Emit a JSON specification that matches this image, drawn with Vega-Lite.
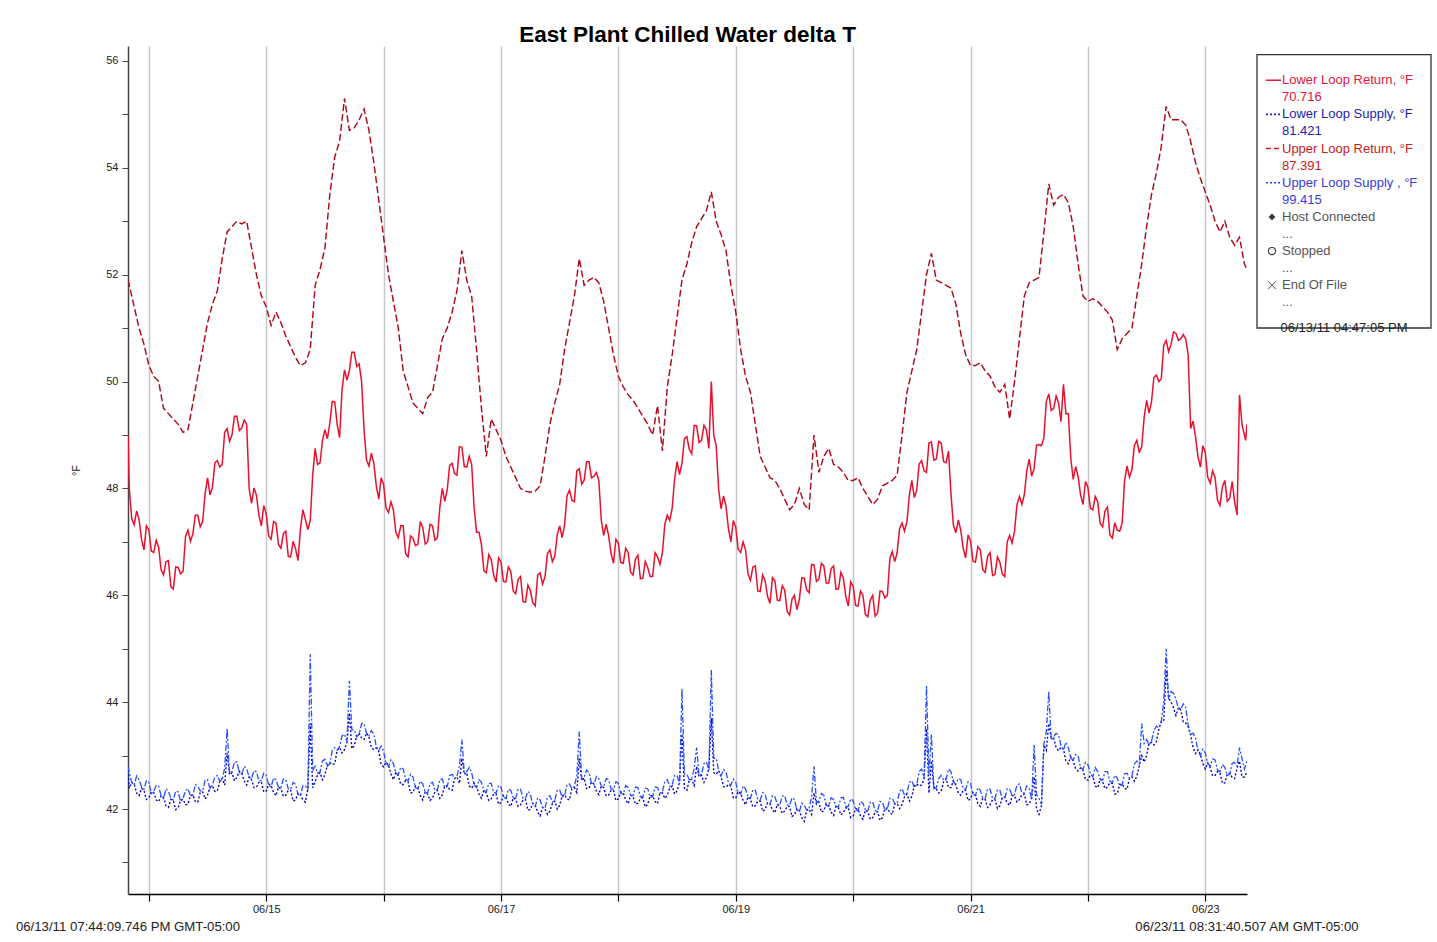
{
"$schema":"https://vega.github.io/schema/vega-lite/v6.json",
"padding":{"left":15,"top":23,"right":4,"bottom":4},
"config":{"view":{"stroke":null},"font":"Liberation Sans","concat":{"spacing":10}},
"bounds":"flush",
"resolve":{"scale":{"color":"independent","strokeDash":"independent","x":"independent","y":"independent"}},
"datasets":{
"ser":[
{"t":"2011-06-13T19:44:09Z","a":49.0,"b":51.9,"c":42.65,"d":42.8},
{"t":"2011-06-13T20:00Z","a":48.0,"b":51.8,"c":42.39,"d":42.68},
{"t":"2011-06-13T21:00Z","a":47.32,"b":51.4,"c":42.47,"d":42.45},
{"t":"2011-06-13T22:00Z","a":47.42,"b":51.0,"c":42.25,"d":42.55},
{"t":"2011-06-13T23:00Z","a":46.85,"b":50.7,"c":42.35,"d":42.37},
{"t":"2011-06-14T00:00Z","a":47.22,"b":50.3,"c":42.21,"d":42.5},
{"t":"2011-06-14T01:00Z","a":46.8,"b":50.1,"c":42.31,"d":42.33},
{"t":"2011-06-14T02:00Z","a":46.9,"b":50.0,"c":42.14,"d":42.43},
{"t":"2011-06-14T03:00Z","a":46.38,"b":49.5,"c":42.22,"d":42.2},
{"t":"2011-06-14T04:00Z","a":46.65,"b":49.4,"c":42.03,"d":42.33},
{"t":"2011-06-14T05:00Z","a":46.12,"b":49.3,"c":42.15,"d":42.17},
{"t":"2011-06-14T06:00Z","a":46.52,"b":49.2,"c":42.03,"d":42.32},
{"t":"2011-06-14T07:00Z","a":46.45,"b":49.05,"c":42.18,"d":42.2},
{"t":"2011-06-14T08:00Z","a":47.22,"b":49.1,"c":42.09,"d":42.38},
{"t":"2011-06-14T09:00Z","a":47.15,"b":49.6,"c":42.27,"d":42.25},
{"t":"2011-06-14T10:00Z","a":47.5,"b":50.1,"c":42.13,"d":42.43},
{"t":"2011-06-14T11:00Z","a":47.38,"b":50.6,"c":42.32,"d":42.34},
{"t":"2011-06-14T12:00Z","a":48.2,"b":51.1,"c":42.26,"d":42.55},
{"t":"2011-06-14T13:00Z","a":48.02,"b":51.45,"c":42.43,"d":42.45},
{"t":"2011-06-14T14:00Z","a":48.52,"b":51.7,"c":42.34,"d":42.63},
{"t":"2011-06-14T15:00Z","a":48.45,"b":52.3,"c":42.57,"d":42.55},
{"t":"2011-06-14T16:00Z","a":49.12,"b":52.8,"c":43.05,"d":43.5},
{"t":"2011-06-14T17:00Z","a":49.0,"b":52.9,"c":42.68,"d":42.7},
{"t":"2011-06-14T18:00Z","a":49.35,"b":53.0,"c":42.59,"d":42.88},
{"t":"2011-06-14T19:00Z","a":49.13,"b":52.95,"c":42.67,"d":42.65},
{"t":"2011-06-14T20:00Z","a":49.2,"b":53.0,"c":42.45,"d":42.75},
{"t":"2011-06-14T21:00Z","a":47.72,"b":52.5,"c":42.55,"d":42.57},
{"t":"2011-06-14T22:00Z","a":47.87,"b":52.0,"c":42.41,"d":42.7},
{"t":"2011-06-14T23:00Z","a":47.3,"b":51.6,"c":42.51,"d":42.53},
{"t":"2011-06-15T00:00Z","a":47.52,"b":51.4,"c":42.34,"d":42.63},
{"t":"2011-06-15T01:00Z","a":47.05,"b":51.05,"c":42.44,"d":42.42},
{"t":"2011-06-15T02:00Z","a":47.35,"b":51.3,"c":42.25,"d":42.55},
{"t":"2011-06-15T03:00Z","a":46.88,"b":51.1,"c":42.38,"d":42.4},
{"t":"2011-06-15T04:00Z","a":47.2,"b":50.85,"c":42.26,"d":42.55},
{"t":"2011-06-15T05:00Z","a":46.72,"b":50.65,"c":42.35,"d":42.37},
{"t":"2011-06-15T06:00Z","a":46.87,"b":50.45,"c":42.17,"d":42.46},
{"t":"2011-06-15T07:00Z","a":47.25,"b":50.3,"c":42.27,"d":42.25},
{"t":"2011-06-15T08:00Z","a":47.42,"b":50.35,"c":42.13,"d":42.43},
{"t":"2011-06-15T09:00Z","a":47.4,"b":50.6,"c":43.6,"d":44.9},
{"t":"2011-06-15T10:00Z","a":48.75,"b":51.8,"c":42.51,"d":42.8},
{"t":"2011-06-15T11:00Z","a":48.48,"b":52.1,"c":42.68,"d":42.7},
{"t":"2011-06-15T12:00Z","a":49.1,"b":52.5,"c":42.64,"d":42.93},
{"t":"2011-06-15T13:00Z","a":49.22,"b":53.5,"c":42.87,"d":42.85},
{"t":"2011-06-15T14:00Z","a":49.62,"b":54.2,"c":42.85,"d":43.15},
{"t":"2011-06-15T15:00Z","a":48.95,"b":54.5,"c":43.15,"d":43.17},
{"t":"2011-06-15T16:00Z","a":50.22,"b":55.3,"c":43.11,"d":43.4},
{"t":"2011-06-15T17:00Z","a":50.2,"b":54.7,"c":43.8,"d":44.4},
{"t":"2011-06-15T18:00Z","a":50.55,"b":54.75,"c":43.19,"d":43.48},
{"t":"2011-06-15T19:00Z","a":50.33,"b":54.9,"c":43.42,"d":43.4},
{"t":"2011-06-15T20:00Z","a":49.1,"b":55.1,"c":43.3,"d":43.6},
{"t":"2011-06-15T21:00Z","a":48.42,"b":54.7,"c":43.35,"d":43.37},
{"t":"2011-06-15T22:00Z","a":48.47,"b":54.1,"c":43.11,"d":43.4},
{"t":"2011-06-15T23:00Z","a":47.8,"b":53.4,"c":43.08,"d":43.1},
{"t":"2011-06-16T00:00Z","a":48.07,"b":52.7,"c":42.79,"d":43.08},
{"t":"2011-06-16T01:00Z","a":47.55,"b":52.0,"c":42.82,"d":42.8},
{"t":"2011-06-16T02:00Z","a":47.6,"b":51.5,"c":42.55,"d":42.85},
{"t":"2011-06-16T03:00Z","a":47.08,"b":51.0,"c":42.62,"d":42.64},
{"t":"2011-06-16T04:00Z","a":47.3,"b":50.2,"c":42.46,"d":42.75},
{"t":"2011-06-16T05:00Z","a":46.72,"b":49.9,"c":42.51,"d":42.53},
{"t":"2011-06-16T06:00Z","a":47.07,"b":49.6,"c":42.31,"d":42.6},
{"t":"2011-06-16T07:00Z","a":46.95,"b":49.5,"c":42.4,"d":42.38},
{"t":"2011-06-16T08:00Z","a":47.27,"b":49.4,"c":42.17,"d":42.47},
{"t":"2011-06-16T09:00Z","a":47.0,"b":49.7,"c":42.28,"d":42.3},
{"t":"2011-06-16T10:00Z","a":47.3,"b":49.8,"c":42.21,"d":42.5},
{"t":"2011-06-16T11:00Z","a":47.08,"b":50.3,"c":42.35,"d":42.37},
{"t":"2011-06-16T12:00Z","a":48.0,"b":50.8,"c":42.27,"d":42.56},
{"t":"2011-06-16T13:00Z","a":47.97,"b":51.0,"c":42.44,"d":42.42},
{"t":"2011-06-16T14:00Z","a":48.47,"b":51.3,"c":42.35,"d":42.65},
{"t":"2011-06-16T15:00Z","a":48.25,"b":51.7,"c":42.6,"d":42.62},
{"t":"2011-06-16T16:00Z","a":48.77,"b":52.45,"c":42.95,"d":43.3},
{"t":"2011-06-16T17:00Z","a":48.4,"b":51.9,"c":42.68,"d":42.7},
{"t":"2011-06-16T18:00Z","a":48.45,"b":51.6,"c":42.39,"d":42.68},
{"t":"2011-06-16T19:00Z","a":47.18,"b":50.6,"c":42.42,"d":42.4},
{"t":"2011-06-16T20:00Z","a":46.95,"b":49.5,"c":42.2,"d":42.5},
{"t":"2011-06-16T21:00Z","a":46.42,"b":48.6,"c":42.3,"d":42.32},
{"t":"2011-06-16T22:00Z","a":46.67,"b":49.3,"c":42.19,"d":42.48},
{"t":"2011-06-16T23:00Z","a":46.25,"b":49.1,"c":42.28,"d":42.3},
{"t":"2011-06-17T00:00Z","a":46.62,"b":48.9,"c":42.12,"d":42.41},
{"t":"2011-06-17T01:00Z","a":46.25,"b":48.6,"c":42.22,"d":42.2},
{"t":"2011-06-17T02:00Z","a":46.45,"b":48.4,"c":42.05,"d":42.35},
{"t":"2011-06-17T03:00Z","a":46.03,"b":48.2,"c":42.18,"d":42.2},
{"t":"2011-06-17T04:00Z","a":46.35,"b":48.0,"c":42.08,"d":42.37},
{"t":"2011-06-17T05:00Z","a":45.87,"b":47.95,"c":42.18,"d":42.2},
{"t":"2011-06-17T06:00Z","a":46.09,"b":47.93,"c":41.99,"d":42.28},
{"t":"2011-06-17T07:00Z","a":45.8,"b":47.95,"c":42.07,"d":42.05},
{"t":"2011-06-17T08:00Z","a":46.42,"b":48.05,"c":41.87,"d":42.17},
{"t":"2011-06-17T09:00Z","a":46.35,"b":48.6,"c":42.0,"d":42.02},
{"t":"2011-06-17T10:00Z","a":46.85,"b":49.2,"c":41.96,"d":42.25},
{"t":"2011-06-17T11:00Z","a":46.73,"b":49.6,"c":42.15,"d":42.17},
{"t":"2011-06-17T12:00Z","a":47.3,"b":49.95,"c":42.07,"d":42.36},
{"t":"2011-06-17T13:00Z","a":47.32,"b":50.6,"c":42.27,"d":42.25},
{"t":"2011-06-17T14:00Z","a":47.97,"b":51.1,"c":42.17,"d":42.47},
{"t":"2011-06-17T15:00Z","a":47.75,"b":51.6,"c":42.4,"d":42.42},
{"t":"2011-06-17T16:00Z","a":48.37,"b":52.3,"c":42.95,"d":43.45},
{"t":"2011-06-17T17:00Z","a":48.15,"b":51.8,"c":42.58,"d":42.6},
{"t":"2011-06-17T18:00Z","a":48.5,"b":51.9,"c":42.39,"d":42.68},
{"t":"2011-06-17T19:00Z","a":48.23,"b":51.95,"c":42.47,"d":42.45},
{"t":"2011-06-17T20:00Z","a":48.15,"b":51.85,"c":42.27,"d":42.57},
{"t":"2011-06-17T21:00Z","a":47.12,"b":51.5,"c":42.4,"d":42.42},
{"t":"2011-06-17T22:00Z","a":47.12,"b":51.0,"c":42.26,"d":42.55},
{"t":"2011-06-17T23:00Z","a":46.6,"b":50.5,"c":42.35,"d":42.37},
{"t":"2011-06-18T00:00Z","a":46.97,"b":50.1,"c":42.19,"d":42.48},
{"t":"2011-06-18T01:00Z","a":46.6,"b":49.9,"c":42.3,"d":42.28},
{"t":"2011-06-18T02:00Z","a":46.8,"b":49.75,"c":42.1,"d":42.4},
{"t":"2011-06-18T03:00Z","a":46.38,"b":49.65,"c":42.23,"d":42.25},
{"t":"2011-06-18T04:00Z","a":46.75,"b":49.5,"c":42.11,"d":42.4},
{"t":"2011-06-18T05:00Z","a":46.32,"b":49.35,"c":42.21,"d":42.23},
{"t":"2011-06-18T06:00Z","a":46.52,"b":49.2,"c":42.09,"d":42.38},
{"t":"2011-06-18T07:00Z","a":46.35,"b":49.0,"c":42.25,"d":42.23},
{"t":"2011-06-18T08:00Z","a":46.72,"b":49.55,"c":42.1,"d":42.4},
{"t":"2011-06-18T09:00Z","a":46.8,"b":48.7,"c":42.3,"d":42.32},
{"t":"2011-06-18T10:00Z","a":47.5,"b":49.9,"c":42.26,"d":42.55},
{"t":"2011-06-18T11:00Z","a":47.63,"b":50.5,"c":42.43,"d":42.45},
{"t":"2011-06-18T12:00Z","a":48.5,"b":51.2,"c":42.34,"d":42.63},
{"t":"2011-06-18T13:00Z","a":48.47,"b":51.9,"c":43.4,"d":44.25},
{"t":"2011-06-18T14:00Z","a":48.97,"b":52.2,"c":42.35,"d":42.65},
{"t":"2011-06-18T15:00Z","a":48.65,"b":52.6,"c":42.55,"d":42.57},
{"t":"2011-06-18T16:00Z","a":49.17,"b":52.9,"c":42.8,"d":43.15},
{"t":"2011-06-18T17:00Z","a":48.9,"b":53.05,"c":42.63,"d":42.65},
{"t":"2011-06-18T18:00Z","a":49.1,"b":53.2,"c":42.59,"d":42.88},
{"t":"2011-06-18T19:00Z","a":50.0,"b":53.55,"c":43.7,"d":44.6},
{"t":"2011-06-18T20:00Z","a":48.8,"b":53.0,"c":42.65,"d":42.95},
{"t":"2011-06-18T21:00Z","a":47.62,"b":52.75,"c":42.6,"d":42.62},
{"t":"2011-06-18T22:00Z","a":47.67,"b":52.45,"c":42.41,"d":42.7},
{"t":"2011-06-18T23:00Z","a":47.0,"b":51.8,"c":42.43,"d":42.45},
{"t":"2011-06-19T00:00Z","a":47.27,"b":51.3,"c":42.21,"d":42.5},
{"t":"2011-06-19T01:00Z","a":46.8,"b":50.6,"c":42.3,"d":42.28},
{"t":"2011-06-19T02:00Z","a":46.85,"b":50.1,"c":42.08,"d":42.38},
{"t":"2011-06-19T03:00Z","a":46.28,"b":49.8,"c":42.18,"d":42.2},
{"t":"2011-06-19T04:00Z","a":46.55,"b":49.2,"c":42.06,"d":42.35},
{"t":"2011-06-19T05:00Z","a":46.07,"b":48.6,"c":42.15,"d":42.17},
{"t":"2011-06-19T06:00Z","a":46.27,"b":48.4,"c":41.99,"d":42.28},
{"t":"2011-06-19T07:00Z","a":45.85,"b":48.2,"c":42.1,"d":42.08},
{"t":"2011-06-19T08:00Z","a":46.27,"b":48.15,"c":41.93,"d":42.23},
{"t":"2011-06-19T09:00Z","a":45.9,"b":48.0,"c":42.05,"d":42.07},
{"t":"2011-06-19T10:00Z","a":46.1,"b":47.8,"c":41.96,"d":42.25},
{"t":"2011-06-19T11:00Z","a":45.63,"b":47.6,"c":42.05,"d":42.07},
{"t":"2011-06-19T12:00Z","a":46.0,"b":47.7,"c":41.89,"d":42.18},
{"t":"2011-06-19T13:00Z","a":45.92,"b":48.0,"c":41.97,"d":41.95},
{"t":"2011-06-19T14:00Z","a":46.32,"b":47.7,"c":41.77,"d":42.07},
{"t":"2011-06-19T15:00Z","a":46.05,"b":47.6,"c":42.0,"d":42.02},
{"t":"2011-06-19T16:00Z","a":46.57,"b":49.0,"c":42.3,"d":42.8},
{"t":"2011-06-19T17:00Z","a":46.3,"b":48.3,"c":42.13,"d":42.15},
{"t":"2011-06-19T18:00Z","a":46.55,"b":48.6,"c":41.97,"d":42.26},
{"t":"2011-06-19T19:00Z","a":46.23,"b":48.75,"c":42.07,"d":42.05},
{"t":"2011-06-19T20:00Z","a":46.55,"b":48.45,"c":41.88,"d":42.18},
{"t":"2011-06-19T21:00Z","a":46.12,"b":48.4,"c":42.02,"d":42.04},
{"t":"2011-06-19T22:00Z","a":46.32,"b":48.3,"c":41.93,"d":42.22},
{"t":"2011-06-19T23:00Z","a":45.8,"b":48.15,"c":42.03,"d":42.05},
{"t":"2011-06-20T00:00Z","a":46.17,"b":48.15,"c":41.87,"d":42.16},
{"t":"2011-06-20T01:00Z","a":45.8,"b":48.2,"c":41.99,"d":41.97},
{"t":"2011-06-20T02:00Z","a":46.0,"b":48.0,"c":41.81,"d":42.11},
{"t":"2011-06-20T03:00Z","a":45.6,"b":47.85,"c":41.95,"d":41.97},
{"t":"2011-06-20T04:00Z","a":46.0,"b":47.7,"c":41.84,"d":42.13},
{"t":"2011-06-20T05:00Z","a":45.67,"b":47.8,"c":41.95,"d":41.97},
{"t":"2011-06-20T06:00Z","a":46.07,"b":48.05,"c":41.84,"d":42.13},
{"t":"2011-06-20T07:00Z","a":46.0,"b":48.1,"c":42.02,"d":42.0},
{"t":"2011-06-20T08:00Z","a":46.82,"b":48.15,"c":41.9,"d":42.2},
{"t":"2011-06-20T09:00Z","a":46.8,"b":48.25,"c":42.1,"d":42.12},
{"t":"2011-06-20T10:00Z","a":47.35,"b":49.0,"c":42.09,"d":42.38},
{"t":"2011-06-20T11:00Z","a":47.38,"b":49.8,"c":42.28,"d":42.3},
{"t":"2011-06-20T12:00Z","a":48.15,"b":50.2,"c":42.24,"d":42.53},
{"t":"2011-06-20T13:00Z","a":47.97,"b":50.6,"c":42.47,"d":42.45},
{"t":"2011-06-20T14:00Z","a":48.52,"b":51.3,"c":42.45,"d":42.75},
{"t":"2011-06-20T15:00Z","a":48.3,"b":52.0,"c":43.5,"d":44.3},
{"t":"2011-06-20T16:00Z","a":48.87,"b":52.4,"c":42.9,"d":43.4},
{"t":"2011-06-20T17:00Z","a":48.55,"b":51.9,"c":42.38,"d":42.4},
{"t":"2011-06-20T18:00Z","a":48.85,"b":51.85,"c":42.34,"d":42.63},
{"t":"2011-06-20T19:00Z","a":48.48,"b":51.8,"c":42.57,"d":42.55},
{"t":"2011-06-20T20:00Z","a":47.9,"b":51.75,"c":42.4,"d":42.7},
{"t":"2011-06-20T21:00Z","a":47.17,"b":51.45,"c":42.45,"d":42.47},
{"t":"2011-06-20T22:00Z","a":47.22,"b":50.9,"c":42.26,"d":42.55},
{"t":"2011-06-20T23:00Z","a":46.7,"b":50.5,"c":42.35,"d":42.37},
{"t":"2011-06-21T00:00Z","a":47.02,"b":50.3,"c":42.19,"d":42.48},
{"t":"2011-06-21T01:00Z","a":46.62,"b":50.3,"c":42.27,"d":42.25},
{"t":"2011-06-21T02:00Z","a":46.85,"b":50.35,"c":42.05,"d":42.35},
{"t":"2011-06-21T03:00Z","a":46.43,"b":50.2,"c":42.18,"d":42.2},
{"t":"2011-06-21T04:00Z","a":46.8,"b":50.1,"c":42.08,"d":42.37},
{"t":"2011-06-21T05:00Z","a":46.39,"b":49.9,"c":42.18,"d":42.2},
{"t":"2011-06-21T06:00Z","a":46.62,"b":49.8,"c":42.06,"d":42.35},
{"t":"2011-06-21T07:00Z","a":46.35,"b":49.95,"c":42.22,"d":42.2},
{"t":"2011-06-21T08:00Z","a":47.12,"b":49.3,"c":42.07,"d":42.37},
{"t":"2011-06-21T09:00Z","a":47.2,"b":50.0,"c":42.25,"d":42.27},
{"t":"2011-06-21T10:00Z","a":47.85,"b":50.8,"c":42.18,"d":42.47},
{"t":"2011-06-21T11:00Z","a":47.88,"b":51.6,"c":42.28,"d":42.3},
{"t":"2011-06-21T12:00Z","a":48.55,"b":51.85,"c":42.09,"d":42.38},
{"t":"2011-06-21T13:00Z","a":48.37,"b":51.9,"c":42.6,"d":43.2},
{"t":"2011-06-21T14:00Z","a":48.82,"b":51.95,"c":41.9,"d":42.2},
{"t":"2011-06-21T15:00Z","a":48.95,"b":52.8,"c":43.2,"d":43.22},
{"t":"2011-06-21T16:00Z","a":49.77,"b":53.7,"c":43.6,"d":44.2},
{"t":"2011-06-21T17:00Z","a":49.5,"b":53.3,"c":43.33,"d":43.35},
{"t":"2011-06-21T18:00Z","a":49.6,"b":53.45,"c":43.09,"d":43.38},
{"t":"2011-06-21T19:00Z","a":49.95,"b":53.5,"c":43.12,"d":43.1},
{"t":"2011-06-21T20:00Z","a":49.4,"b":53.35,"c":42.85,"d":43.15},
{"t":"2011-06-21T21:00Z","a":48.17,"b":52.9,"c":42.9,"d":42.92},
{"t":"2011-06-21T22:00Z","a":48.22,"b":52.2,"c":42.71,"d":43.0},
{"t":"2011-06-21T23:00Z","a":47.7,"b":51.6,"c":42.73,"d":42.75},
{"t":"2011-06-22T00:00Z","a":48.02,"b":51.5,"c":42.54,"d":42.83},
{"t":"2011-06-22T01:00Z","a":47.6,"b":51.55,"c":42.62,"d":42.6},
{"t":"2011-06-22T02:00Z","a":47.75,"b":51.5,"c":42.4,"d":42.7},
{"t":"2011-06-22T03:00Z","a":47.28,"b":51.4,"c":42.52,"d":42.54},
{"t":"2011-06-22T04:00Z","a":47.65,"b":51.3,"c":42.41,"d":42.7},
{"t":"2011-06-22T05:00Z","a":47.07,"b":51.15,"c":42.48,"d":42.5},
{"t":"2011-06-22T06:00Z","a":47.22,"b":50.6,"c":42.29,"d":42.58},
{"t":"2011-06-22T07:00Z","a":47.35,"b":50.8,"c":42.47,"d":42.45},
{"t":"2011-06-22T08:00Z","a":48.42,"b":50.9,"c":42.37,"d":42.67},
{"t":"2011-06-22T09:00Z","a":48.35,"b":51.0,"c":42.6,"d":42.62},
{"t":"2011-06-22T10:00Z","a":48.9,"b":51.6,"c":42.61,"d":42.9},
{"t":"2011-06-22T11:00Z","a":48.78,"b":52.2,"c":43.0,"d":43.6},
{"t":"2011-06-22T12:00Z","a":49.65,"b":52.9,"c":43.0,"d":43.3},
{"t":"2011-06-22T13:00Z","a":49.62,"b":53.5,"c":43.25,"d":43.27},
{"t":"2011-06-22T14:00Z","a":50.12,"b":53.9,"c":43.26,"d":43.55},
{"t":"2011-06-22T15:00Z","a":50.05,"b":54.4,"c":43.63,"d":43.65},
{"t":"2011-06-22T16:00Z","a":50.77,"b":55.15,"c":44.6,"d":45.0},
{"t":"2011-06-22T17:00Z","a":50.7,"b":54.9,"c":44.0,"d":44.2},
{"t":"2011-06-22T18:00Z","a":50.9,"b":54.9,"c":43.75,"d":44.05},
{"t":"2011-06-22T19:00Z","a":50.8,"b":54.9,"c":43.85,"d":43.87},
{"t":"2011-06-22T20:00Z","a":50.8,"b":54.8,"c":43.61,"d":43.9},
{"t":"2011-06-22T21:00Z","a":49.12,"b":54.5,"c":43.38,"d":43.4},
{"t":"2011-06-22T22:00Z","a":48.97,"b":54.1,"c":43.04,"d":43.33},
{"t":"2011-06-22T23:00Z","a":48.4,"b":53.8,"c":43.02,"d":43.0},
{"t":"2011-06-23T00:00Z","a":48.67,"b":53.55,"c":42.75,"d":43.05},
{"t":"2011-06-23T01:00Z","a":48.1,"b":53.3,"c":42.78,"d":42.8},
{"t":"2011-06-23T02:00Z","a":48.2,"b":53.0,"c":42.63,"d":42.92},
{"t":"2011-06-23T03:00Z","a":47.68,"b":52.8,"c":42.68,"d":42.7},
{"t":"2011-06-23T04:00Z","a":48.15,"b":53.0,"c":42.49,"d":42.78},
{"t":"2011-06-23T05:00Z","a":47.82,"b":52.7,"c":42.67,"d":42.65},
{"t":"2011-06-23T06:00Z","a":47.75,"b":52.55,"c":42.57,"d":42.87},
{"t":"2011-06-23T07:00Z","a":49.75,"b":52.7,"c":42.9,"d":43.15},
{"t":"2011-06-23T08:00Z","a":49.0,"b":52.2,"c":42.6,"d":42.75},
{"t":"2011-06-23T08:31:40Z","a":49.2,"b":52.1,"c":42.7,"d":42.9},
{"t":"2011-06-13T20:30Z","a":47.43,"c":42.5,"d":42.5},
{"t":"2011-06-13T21:30Z","a":47.58,"c":42.3,"d":42.62},
{"t":"2011-06-13T22:30Z","a":47.05,"c":42.39,"d":42.42},
{"t":"2011-06-13T23:30Z","a":47.3,"c":42.18,"d":42.53},
{"t":"2011-06-14T00:30Z","a":46.83,"c":42.32,"d":42.29},
{"t":"2011-06-14T01:30Z","a":47.03,"c":42.17,"d":42.44},
{"t":"2011-06-14T02:30Z","a":46.48,"c":42.25,"d":42.25},
{"t":"2011-06-14T03:30Z","a":46.63,"c":42.06,"d":42.38},
{"t":"2011-06-14T04:30Z","a":46.16,"c":42.18,"d":42.21},
{"t":"2011-06-14T05:30Z","a":46.53,"c":41.99,"d":42.34},
{"t":"2011-06-14T06:30Z","a":46.4,"c":42.17,"d":42.14},
{"t":"2011-06-14T07:30Z","a":47.1,"c":42.08,"d":42.35},
{"t":"2011-06-14T08:30Z","a":47.01,"c":42.25,"d":42.25},
{"t":"2011-06-14T09:30Z","a":47.5,"c":42.14,"d":42.46},
{"t":"2011-06-14T10:30Z","a":47.28,"c":42.31,"d":42.34},
{"t":"2011-06-14T11:30Z","a":47.9,"c":42.19,"d":42.54},
{"t":"2011-06-14T12:30Z","a":47.88,"c":42.41,"d":42.38},
{"t":"2011-06-14T13:30Z","a":48.48,"c":42.33,"d":42.6},
{"t":"2011-06-14T14:30Z","a":48.4,"c":42.52,"d":42.52},
{"t":"2011-06-14T15:30Z","a":49.05,"c":42.45,"d":42.77},
{"t":"2011-06-14T16:30Z","a":48.88,"c":42.64,"d":42.67},
{"t":"2011-06-14T17:30Z","a":49.35,"c":42.53,"d":42.88},
{"t":"2011-06-14T18:30Z","a":49.08,"c":42.71,"d":42.68},
{"t":"2011-06-14T19:30Z","a":49.28,"c":42.53,"d":42.8},
{"t":"2011-06-14T20:30Z","a":48.0,"c":42.6,"d":42.6},
{"t":"2011-06-14T21:30Z","a":48.01,"c":42.4,"d":42.72},
{"t":"2011-06-14T22:30Z","a":47.5,"c":42.5,"d":42.53},
{"t":"2011-06-14T23:30Z","a":47.68,"c":42.32,"d":42.67},
{"t":"2011-06-15T00:30Z","a":47.11,"c":42.47,"d":42.44},
{"t":"2011-06-15T01:30Z","a":47.38,"c":42.31,"d":42.58},
{"t":"2011-06-15T02:30Z","a":46.95,"c":42.41,"d":42.41},
{"t":"2011-06-15T03:30Z","a":47.15,"c":42.24,"d":42.56},
{"t":"2011-06-15T04:30Z","a":46.73,"c":42.35,"d":42.38},
{"t":"2011-06-15T05:30Z","a":47.01,"c":42.15,"d":42.5},
{"t":"2011-06-15T06:30Z","a":46.65,"c":42.3,"d":42.27},
{"t":"2011-06-15T07:30Z","a":47.6,"c":42.17,"d":42.44},
{"t":"2011-06-15T08:30Z","a":47.23,"c":42.37,"d":42.37},
{"t":"2011-06-15T09:30Z","a":48.25,"c":42.4,"d":42.72},
{"t":"2011-06-15T10:30Z","a":48.45,"c":42.64,"d":42.67},
{"t":"2011-06-15T11:30Z","a":48.9,"c":42.55,"d":42.9},
{"t":"2011-06-15T12:30Z","a":48.93,"c":42.83,"d":42.8},
{"t":"2011-06-15T13:30Z","a":49.63,"c":42.83,"d":43.1},
{"t":"2011-06-15T14:30Z","a":49.2,"c":43.1,"d":43.1},
{"t":"2011-06-15T15:30Z","a":49.85,"c":43.05,"d":43.37},
{"t":"2011-06-15T16:30Z","a":50.03,"c":43.24,"d":43.27},
{"t":"2011-06-15T17:30Z","a":50.55,"c":43.13,"d":43.48},
{"t":"2011-06-15T18:30Z","a":50.28,"c":43.38,"d":43.35},
{"t":"2011-06-15T19:30Z","a":50.0,"c":43.33,"d":43.6},
{"t":"2011-06-15T20:30Z","a":48.53,"c":43.42,"d":43.42},
{"t":"2011-06-15T21:30Z","a":48.66,"c":43.15,"d":43.47},
{"t":"2011-06-15T22:30Z","a":48.05,"c":43.14,"d":43.17},
{"t":"2011-06-15T23:30Z","a":48.2,"c":42.83,"d":43.18},
{"t":"2011-06-16T00:30Z","a":47.63,"c":42.88,"d":42.85},
{"t":"2011-06-16T01:30Z","a":47.75,"c":42.65,"d":42.92},
{"t":"2011-06-16T02:30Z","a":47.18,"c":42.68,"d":42.68},
{"t":"2011-06-16T03:30Z","a":47.3,"c":42.46,"d":42.78},
{"t":"2011-06-16T04:30Z","a":46.78,"c":42.53,"d":42.56},
{"t":"2011-06-16T05:30Z","a":47.11,"c":42.3,"d":42.65},
{"t":"2011-06-16T06:30Z","a":46.93,"c":42.43,"d":42.4},
{"t":"2011-06-16T07:30Z","a":47.38,"c":42.25,"d":42.52},
{"t":"2011-06-16T08:30Z","a":46.96,"c":42.32,"d":42.32},
{"t":"2011-06-16T09:30Z","a":47.33,"c":42.16,"d":42.48},
{"t":"2011-06-16T10:30Z","a":47.03,"c":42.32,"d":42.35},
{"t":"2011-06-16T11:30Z","a":47.65,"c":42.2,"d":42.55},
{"t":"2011-06-16T12:30Z","a":47.76,"c":42.43,"d":42.4},
{"t":"2011-06-16T13:30Z","a":48.43,"c":42.36,"d":42.63},
{"t":"2011-06-16T14:30Z","a":48.28,"c":42.57,"d":42.57},
{"t":"2011-06-16T15:30Z","a":48.78,"c":42.48,"d":42.8},
{"t":"2011-06-16T16:30Z","a":48.41,"c":42.65,"d":42.68},
{"t":"2011-06-16T17:30Z","a":48.6,"c":42.43,"d":42.78},
{"t":"2011-06-16T18:30Z","a":47.65,"c":42.48,"d":42.45},
{"t":"2011-06-16T19:30Z","a":47.18,"c":42.28,"d":42.55},
{"t":"2011-06-16T20:30Z","a":46.46,"c":42.35,"d":42.35},
{"t":"2011-06-16T21:30Z","a":46.76,"c":42.16,"d":42.48},
{"t":"2011-06-16T22:30Z","a":46.38,"c":42.28,"d":42.31},
{"t":"2011-06-16T23:30Z","a":46.7,"c":42.09,"d":42.44},
{"t":"2011-06-17T00:30Z","a":46.26,"c":42.25,"d":42.22},
{"t":"2011-06-17T01:30Z","a":46.53,"c":42.1,"d":42.37},
{"t":"2011-06-17T02:30Z","a":46.08,"c":42.21,"d":42.21},
{"t":"2011-06-17T03:30Z","a":46.3,"c":42.05,"d":42.37},
{"t":"2011-06-17T04:30Z","a":45.88,"c":42.17,"d":42.2},
{"t":"2011-06-17T05:30Z","a":46.19,"c":41.98,"d":42.33},
{"t":"2011-06-17T06:30Z","a":45.86,"c":42.11,"d":42.08},
{"t":"2011-06-17T07:30Z","a":46.38,"c":41.94,"d":42.21},
{"t":"2011-06-17T08:30Z","a":46.21,"c":42.03,"d":42.03},
{"t":"2011-06-17T09:30Z","a":46.78,"c":41.9,"d":42.22},
{"t":"2011-06-17T10:30Z","a":46.63,"c":42.1,"d":42.13},
{"t":"2011-06-17T11:30Z","a":47.13,"c":42.0,"d":42.35},
{"t":"2011-06-17T12:30Z","a":47.08,"c":42.25,"d":42.22},
{"t":"2011-06-17T13:30Z","a":47.86,"c":42.19,"d":42.46},
{"t":"2011-06-17T14:30Z","a":47.78,"c":42.38,"d":42.38},
{"t":"2011-06-17T15:30Z","a":48.33,"c":42.31,"d":42.63},
{"t":"2011-06-17T16:30Z","a":48.08,"c":42.53,"d":42.56},
{"t":"2011-06-17T17:30Z","a":48.5,"c":42.38,"d":42.73},
{"t":"2011-06-17T18:30Z","a":48.2,"c":42.51,"d":42.48},
{"t":"2011-06-17T19:30Z","a":48.3,"c":42.34,"d":42.61},
{"t":"2011-06-17T20:30Z","a":47.41,"c":42.43,"d":42.43},
{"t":"2011-06-17T21:30Z","a":47.33,"c":42.25,"d":42.57},
{"t":"2011-06-17T22:30Z","a":46.78,"c":42.35,"d":42.38},
{"t":"2011-06-17T23:30Z","a":47.05,"c":42.16,"d":42.51},
{"t":"2011-06-18T00:30Z","a":46.61,"c":42.32,"d":42.29},
{"t":"2011-06-18T01:30Z","a":46.88,"c":42.17,"d":42.44},
{"t":"2011-06-18T02:30Z","a":46.43,"c":42.26,"d":42.26},
{"t":"2011-06-18T03:30Z","a":46.68,"c":42.09,"d":42.41},
{"t":"2011-06-18T04:30Z","a":46.31,"c":42.2,"d":42.23},
{"t":"2011-06-18T05:30Z","a":46.63,"c":42.04,"d":42.39},
{"t":"2011-06-18T06:30Z","a":46.35,"c":42.25,"d":42.22},
{"t":"2011-06-18T07:30Z","a":46.8,"c":42.14,"d":42.41},
{"t":"2011-06-18T08:30Z","a":46.58,"c":42.3,"d":42.3},
{"t":"2011-06-18T09:30Z","a":47.33,"c":42.2,"d":42.52},
{"t":"2011-06-18T10:30Z","a":47.4,"c":42.39,"d":42.42},
{"t":"2011-06-18T11:30Z","a":48.18,"c":42.28,"d":42.63},
{"t":"2011-06-18T12:30Z","a":48.26,"c":42.5,"d":42.47},
{"t":"2011-06-18T13:30Z","a":48.93,"c":42.39,"d":42.66},
{"t":"2011-06-18T14:30Z","a":48.73,"c":42.55,"d":42.55},
{"t":"2011-06-18T15:30Z","a":49.18,"c":42.44,"d":42.76},
{"t":"2011-06-18T16:30Z","a":48.86,"c":42.6,"d":42.63},
{"t":"2011-06-18T17:30Z","a":49.18,"c":42.5,"d":42.85},
{"t":"2011-06-18T18:30Z","a":48.75,"c":42.76,"d":42.73},
{"t":"2011-06-18T19:30Z","a":49.0,"c":42.68,"d":42.95},
{"t":"2011-06-18T20:30Z","a":47.98,"c":42.72,"d":42.72},
{"t":"2011-06-18T21:30Z","a":47.86,"c":42.42,"d":42.74},
{"t":"2011-06-18T22:30Z","a":47.25,"c":42.46,"d":42.49},
{"t":"2011-06-18T23:30Z","a":47.4,"c":42.21,"d":42.56},
{"t":"2011-06-19T00:30Z","a":46.86,"c":42.33,"d":42.3},
{"t":"2011-06-19T01:30Z","a":47.0,"c":42.16,"d":42.43},
{"t":"2011-06-19T02:30Z","a":46.4,"c":42.23,"d":42.23},
{"t":"2011-06-19T03:30Z","a":46.53,"c":42.04,"d":42.36},
{"t":"2011-06-19T04:30Z","a":46.08,"c":42.15,"d":42.18},
{"t":"2011-06-19T05:30Z","a":46.38,"c":41.96,"d":42.31},
{"t":"2011-06-19T06:30Z","a":45.98,"c":42.12,"d":42.09},
{"t":"2011-06-19T07:30Z","a":46.33,"c":41.98,"d":42.25},
{"t":"2011-06-19T08:30Z","a":45.91,"c":42.09,"d":42.09},
{"t":"2011-06-19T09:30Z","a":46.18,"c":41.92,"d":42.24},
{"t":"2011-06-19T10:30Z","a":45.7,"c":42.05,"d":42.08},
{"t":"2011-06-19T11:30Z","a":45.93,"c":41.86,"d":42.21},
{"t":"2011-06-19T12:30Z","a":45.73,"c":42.01,"d":41.98},
{"t":"2011-06-19T13:30Z","a":46.33,"c":41.84,"d":42.11},
{"t":"2011-06-19T14:30Z","a":46.1,"c":41.98,"d":41.98},
{"t":"2011-06-19T15:30Z","a":46.58,"c":41.9,"d":42.22},
{"t":"2011-06-19T16:30Z","a":46.26,"c":42.09,"d":42.12},
{"t":"2011-06-19T17:30Z","a":46.6,"c":41.94,"d":42.29},
{"t":"2011-06-19T18:30Z","a":46.23,"c":42.1,"d":42.07},
{"t":"2011-06-19T19:30Z","a":46.5,"c":41.94,"d":42.21},
{"t":"2011-06-19T20:30Z","a":46.11,"c":42.05,"d":42.05},
{"t":"2011-06-19T21:30Z","a":46.43,"c":41.89,"d":42.21},
{"t":"2011-06-19T22:30Z","a":45.98,"c":42.02,"d":42.05},
{"t":"2011-06-19T23:30Z","a":46.25,"c":41.84,"d":42.19},
{"t":"2011-06-20T00:30Z","a":45.81,"c":42.01,"d":41.98},
{"t":"2011-06-20T01:30Z","a":46.08,"c":41.87,"d":42.14},
{"t":"2011-06-20T02:30Z","a":45.64,"c":41.98,"d":41.98},
{"t":"2011-06-20T03:30Z","a":45.91,"c":41.81,"d":42.13},
{"t":"2011-06-20T04:30Z","a":45.61,"c":41.94,"d":41.97},
{"t":"2011-06-20T05:30Z","a":46.08,"c":41.79,"d":42.14},
{"t":"2011-06-20T06:30Z","a":45.95,"c":42.01,"d":41.98},
{"t":"2011-06-20T07:30Z","a":46.68,"c":41.93,"d":42.2},
{"t":"2011-06-20T08:30Z","a":46.63,"c":42.1,"d":42.1},
{"t":"2011-06-20T09:30Z","a":47.25,"c":42.01,"d":42.33},
{"t":"2011-06-20T10:30Z","a":47.2,"c":42.23,"d":42.26},
{"t":"2011-06-20T11:30Z","a":47.88,"c":42.15,"d":42.5},
{"t":"2011-06-20T12:30Z","a":47.83,"c":42.43,"d":42.4},
{"t":"2011-06-20T13:30Z","a":48.46,"c":42.43,"d":42.7},
{"t":"2011-06-20T14:30Z","a":48.33,"c":42.56,"d":42.57},
{"t":"2011-06-20T15:30Z","a":48.85,"c":42.3,"d":42.65},
{"t":"2011-06-20T16:30Z","a":48.53,"c":42.41,"d":42.38},
{"t":"2011-06-20T17:30Z","a":48.88,"c":42.3,"d":42.57},
{"t":"2011-06-20T18:30Z","a":48.5,"c":42.51,"d":42.54},
{"t":"2011-06-20T19:30Z","a":48.7,"c":42.4,"d":42.75},
{"t":"2011-06-20T20:30Z","a":47.31,"c":42.53,"d":42.5},
{"t":"2011-06-20T21:30Z","a":47.41,"c":42.3,"d":42.57},
{"t":"2011-06-20T22:30Z","a":46.88,"c":42.35,"d":42.38},
{"t":"2011-06-20T23:30Z","a":47.13,"c":42.16,"d":42.51},
{"t":"2011-06-21T00:30Z","a":46.64,"c":42.31,"d":42.28},
{"t":"2011-06-21T01:30Z","a":46.91,"c":42.1,"d":42.4},
{"t":"2011-06-21T02:30Z","a":46.48,"c":42.2,"d":42.21},
{"t":"2011-06-21T03:30Z","a":46.73,"c":42.03,"d":42.38},
{"t":"2011-06-21T04:30Z","a":46.37,"c":42.17,"d":42.2},
{"t":"2011-06-21T05:30Z","a":46.72,"c":42.01,"d":42.36},
{"t":"2011-06-21T06:30Z","a":46.4,"c":42.22,"d":42.19},
{"t":"2011-06-21T07:30Z","a":47.0,"c":42.11,"d":42.38},
{"t":"2011-06-21T08:30Z","a":46.98,"c":42.25,"d":42.26},
{"t":"2011-06-21T09:30Z","a":47.7,"c":42.13,"d":42.45},
{"t":"2011-06-21T10:30Z","a":47.7,"c":42.27,"d":42.3},
{"t":"2011-06-21T11:30Z","a":48.33,"c":42.08,"d":42.43},
{"t":"2011-06-21T12:30Z","a":48.23,"c":42.21,"d":42.18},
{"t":"2011-06-21T13:30Z","a":48.81,"c":42.0,"d":42.27},
{"t":"2011-06-21T14:30Z","a":48.8,"c":42.06,"d":42.09},
{"t":"2011-06-21T15:30Z","a":49.63,"c":43.1,"d":43.45},
{"t":"2011-06-21T16:30Z","a":49.46,"c":43.33,"d":43.3},
{"t":"2011-06-21T17:30Z","a":49.73,"c":43.15,"d":43.42},
{"t":"2011-06-21T18:30Z","a":49.25,"c":43.16,"d":43.19},
{"t":"2011-06-21T19:30Z","a":49.4,"c":42.9,"d":43.25},
{"t":"2011-06-21T20:30Z","a":48.56,"c":42.98,"d":42.95},
{"t":"2011-06-21T21:30Z","a":48.41,"c":42.75,"d":43.02},
{"t":"2011-06-21T22:30Z","a":47.88,"c":42.77,"d":42.77},
{"t":"2011-06-21T23:30Z","a":48.13,"c":42.55,"d":42.87},
{"t":"2011-06-22T00:30Z","a":47.63,"c":42.64,"d":42.67},
{"t":"2011-06-22T01:30Z","a":47.85,"c":42.43,"d":42.78},
{"t":"2011-06-22T02:30Z","a":47.35,"c":42.56,"d":42.56},
{"t":"2011-06-22T03:30Z","a":47.58,"c":42.38,"d":42.7},
{"t":"2011-06-22T04:30Z","a":47.13,"c":42.49,"d":42.52},
{"t":"2011-06-22T05:30Z","a":47.36,"c":42.28,"d":42.63},
{"t":"2011-06-22T06:30Z","a":47.2,"c":42.46,"d":42.43},
{"t":"2011-06-22T07:30Z","a":48.15,"c":42.39,"d":42.66},
{"t":"2011-06-22T08:30Z","a":48.21,"c":42.58,"d":42.58},
{"t":"2011-06-22T09:30Z","a":48.8,"c":42.52,"d":42.84},
{"t":"2011-06-22T10:30Z","a":48.68,"c":42.81,"d":42.84},
{"t":"2011-06-22T11:30Z","a":49.33,"c":42.88,"d":43.23},
{"t":"2011-06-22T12:30Z","a":49.41,"c":43.23,"d":43.2},
{"t":"2011-06-22T13:30Z","a":50.08,"c":43.2,"d":43.47},
{"t":"2011-06-22T14:30Z","a":50.0,"c":43.49,"d":43.52},
{"t":"2011-06-22T15:30Z","a":50.68,"c":43.65,"d":44.0},
{"t":"2011-06-22T16:30Z","a":50.56,"c":44.08,"d":44.05},
{"t":"2011-06-22T17:30Z","a":50.93,"c":43.9,"d":44.17},
{"t":"2011-06-22T18:30Z","a":50.77,"c":43.9,"d":43.9},
{"t":"2011-06-22T19:30Z","a":50.88,"c":43.63,"d":43.97},
{"t":"2011-06-22T20:30Z","a":50.5,"c":43.54,"d":43.57},
{"t":"2011-06-22T21:30Z","a":49.26,"c":43.15,"d":43.42},
{"t":"2011-06-22T22:30Z","a":48.6,"c":43.11,"d":43.08},
{"t":"2011-06-22T23:30Z","a":48.8,"c":42.85,"d":43.12},
{"t":"2011-06-23T00:30Z","a":48.21,"c":42.86,"d":42.86},
{"t":"2011-06-23T01:30Z","a":48.33,"c":42.62,"d":42.94},
{"t":"2011-06-23T02:30Z","a":47.78,"c":42.7,"d":42.73},
{"t":"2011-06-23T03:30Z","a":48.03,"c":42.48,"d":42.83},
{"t":"2011-06-23T04:30Z","a":47.76,"c":42.66,"d":42.63},
{"t":"2011-06-23T05:30Z","a":48.13,"c":42.59,"d":42.86},
{"t":"2011-06-23T06:30Z","a":47.5,"c":42.77,"d":42.8},
{"t":"2011-06-23T07:30Z","a":49.2,"c":42.6,"d":42.95},
{"t":"2011-06-23T08:15Z","a":48.9}
],
"leg":[
{"row":0,"txt":"Lower Loop Return, °F","k":"a"},
{"row":1,"txt":"70.716","k":"a"},
{"row":2,"txt":"Lower Loop Supply, °F","k":"c"},
{"row":3,"txt":"81.421","k":"c"},
{"row":4,"txt":"Upper Loop Return, °F","k":"b"},
{"row":5,"txt":"87.391","k":"b"},
{"row":6,"txt":"Upper Loop Supply , °F","k":"d"},
{"row":7,"txt":"99.415","k":"d"},
{"row":8,"txt":"Host Connected","k":"g"},
{"row":9,"txt":"...","k":"g"},
{"row":10,"txt":"Stopped","k":"g"},
{"row":11,"txt":"...","k":"g"},
{"row":12,"txt":"End Of File","k":"g"},
{"row":13,"txt":"...","k":"g"}
]
},
"hconcat":[
{
"width":1119,"height":848,
"title":{"text":"East Plant Chilled Water delta T","fontSize":22.5,"fontWeight":"bold","font":"Liberation Sans","color":"#000","offset":0},
"encoding":{"x":{"field":"t","type":"temporal",
 "scale":{"type":"utc","domain":[{"year":2011,"month":6,"date":13,"hours":19,"minutes":44,"seconds":9,"utc":true},{"year":2011,"month":6,"date":23,"hours":8,"minutes":31,"seconds":40,"utc":true}]},
 "axis":{"title":null,"values":[{"year":2011,"month":6,"date":14,"utc":true},{"year":2011,"month":6,"date":15,"utc":true},{"year":2011,"month":6,"date":16,"utc":true},{"year":2011,"month":6,"date":17,"utc":true},{"year":2011,"month":6,"date":18,"utc":true},{"year":2011,"month":6,"date":19,"utc":true},{"year":2011,"month":6,"date":20,"utc":true},{"year":2011,"month":6,"date":21,"utc":true},{"year":2011,"month":6,"date":22,"utc":true},{"year":2011,"month":6,"date":23,"utc":true}],
 "labelExpr":"utcdate(datum.value) % 2 == 1 ? utcFormat(datum.value, '%m/%d') : ''",
 "grid":true,"gridColor":"#c8c8c8","gridWidth":1.5,"tickSize":7,"tickColor":"#000","tickWidth":1.2,"domainColor":"#000","domainWidth":1.5,
 "labelFontSize":11,"labelColor":"#222","labelPadding":2,"labelFlush":false,"labelOverlap":false}}},
"layer":[
{"data":{"name":"ser"},
 "transform":[{"fold":["a","b","c","d"],"as":["k","v"]},{"filter":"isValid(datum.v)"}],
 "mark":{"type":"line","clip":true},
 "encoding":{
  "y":{"field":"v","type":"quantitative","scale":{"domain":[40.41,56.28],"nice":false,"zero":false},
   "axis":{"title":"°F","titleFontWeight":"normal","titleFontSize":11,"titleColor":"#222","titlePadding":24,
    "values":[41,42,43,44,45,46,47,48,49,50,51,52,53,54,55,56],
    "labelExpr":"datum.value % 2 == 0 ? datum.label : ''","grid":false,"tickSize":6,"tickColor":"#444","domainColor":"#444","domainWidth":1.5,
    "labelFontSize":11,"labelColor":"#222","labelPadding":4}},
  "color":{"field":"k","type":"nominal","scale":{"domain":["a","b","c","d"],"range":["#e8112d","#b0061c","#0000cc","#2850ff"]},"legend":null},
  "strokeDash":{"field":"k","type":"nominal","scale":{"domain":["a","b","c","d"],"range":[[1,0],[7,3],[2,2],[6,2,2,2]]},"legend":null},
  "strokeWidth":{"field":"k","type":"ordinal","scale":{"domain":["a","b","c","d"],"range":[1.5,1.3,1.3,1.3]},"legend":null}
 }},
{"data":{"values":[{"t":"2011-06-13T19:44:09Z","lab":"06/13/11 07:44:09.746 PM GMT-05:00"},{"t":"2011-06-23T08:31:40Z","lab":"06/23/11 08:31:40.507 AM GMT-05:00"}]},
 "mark":{"type":"text","fontSize":13.2,"color":"#222","align":"center","baseline":"middle"},
 "encoding":{"y":{"datum":39.79,"type":"quantitative"},"text":{"field":"lab"}}}
]
},
{
"width":174,"height":282,
"layer":[
{"data":{"values":[{}]},
 "mark":{"type":"rect","fill":"#fff","stroke":"#333","strokeWidth":1.3},
 "encoding":{"x":{"datum":0,"type":"quantitative","scale":{"domain":[0,174],"nice":false,"zero":false},"axis":null},"x2":{"datum":174},
  "y":{"datum":-1.5,"type":"quantitative","scale":{"domain":[-2,14.5],"reverse":true,"nice":false,"zero":false},"axis":null},"y2":{"datum":14.5}}},
{"data":{"name":"leg"},
 "transform":[{"filter":"datum.row < 8 && datum.row % 2 == 0"}],
 "mark":{"type":"rule","strokeWidth":1.6},
 "encoding":{"x":{"datum":9,"type":"quantitative"},"x2":{"datum":24},"y":{"field":"row","type":"quantitative"},
  "color":{"field":"k","type":"nominal","scale":{"domain":["a","b","c","d","g"],"range":["#e8163c","#c82020","#2323b0","#3a3ae0","#555555"]},"legend":null},
  "strokeDash":{"field":"k","type":"nominal","scale":{"domain":["a","b","c","d"],"range":[[1,0],[5,3],[2,2],[2,2]]},"legend":null}}},
{"data":{"name":"leg"},
 "mark":{"type":"text","align":"left","baseline":"middle","fontSize":13},
 "encoding":{"x":{"datum":25,"type":"quantitative"},"y":{"field":"row","type":"quantitative"},"text":{"field":"txt"},
  "color":{"field":"k","type":"nominal","legend":null}}},
{"data":{"name":"leg"},
 "transform":[{"filter":"datum.row == 8"}],
 "mark":{"type":"point","shape":"diamond","filled":true,"color":"#333","size":45,"opacity":1},
 "encoding":{"x":{"datum":15,"type":"quantitative"},"y":{"field":"row","type":"quantitative"}}},
{"data":{"name":"leg"},
 "transform":[{"filter":"datum.row == 10"}],
 "mark":{"type":"point","shape":"circle","filled":false,"color":"#333","size":50,"strokeWidth":1.1,"opacity":1},
 "encoding":{"x":{"datum":15,"type":"quantitative"},"y":{"field":"row","type":"quantitative"}}},
{"data":{"name":"leg"},
 "transform":[{"filter":"datum.row == 12"}],
 "mark":{"type":"point","shape":"M-1,-1L1,1M-1,1L1,-1","filled":false,"color":"#444","size":60,"strokeWidth":1,"opacity":1},
 "encoding":{"x":{"datum":15,"type":"quantitative"},"y":{"field":"row","type":"quantitative"}}},
{"data":{"values":[{"lab":"06/13/11 04:47:05 PM"}]},
 "mark":{"type":"text","align":"center","baseline":"middle","fontSize":13,"color":"#222"},
 "encoding":{"x":{"datum":87,"type":"quantitative"},"y":{"datum":14.5,"type":"quantitative"},"text":{"field":"lab"}}}
]
}
]
}
